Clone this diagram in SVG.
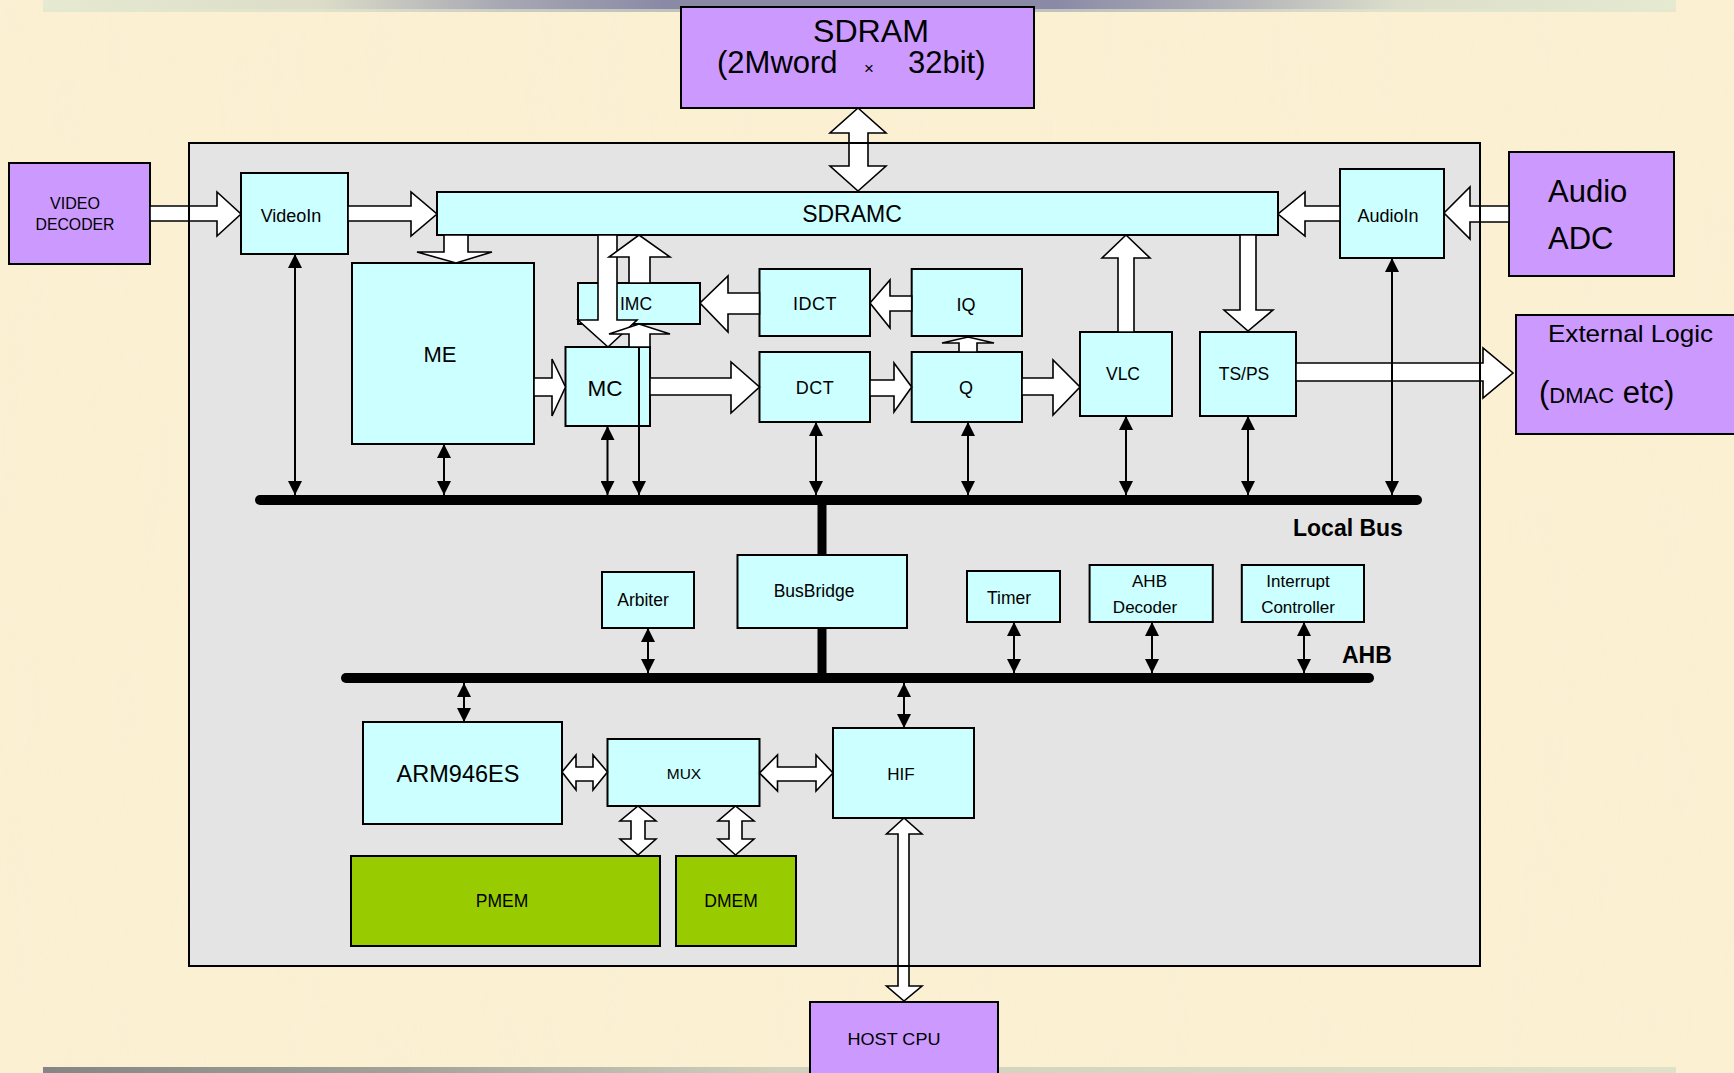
<svg xmlns="http://www.w3.org/2000/svg" width="1734" height="1073" viewBox="0 0 1734 1073">
<defs>
<style>
text{font-family:"Liberation Sans",Arial,sans-serif;fill:#000}
.n{stroke:#000;stroke-width:2}
.pu{fill:#cc99ff}.cy{fill:#ccffff}.gr{fill:#99cc00}
.ba{fill:#fff;stroke:#000;stroke-width:1.6;stroke-linejoin:miter}
.tl{stroke:#000;stroke-width:2;fill:none;marker-end:url(#ah)}
.bi{marker-start:url(#ah)}
.bus{stroke:#000;stroke-width:10;stroke-linecap:round}
.m{text-anchor:middle}
.b{font-weight:bold}
</style>
<marker id="ah" viewBox="0 0 14 14" refX="14" refY="7" markerWidth="14" markerHeight="14" markerUnits="userSpaceOnUse" orient="auto-start-reverse"><path d="M0,0 L14,7 L0,14 z" fill="#000"/></marker>
<linearGradient id="topg" x1="0" x2="1" y1="0" y2="0">
<stop offset="0" stop-color="#e6ead0"/><stop offset="0.17" stop-color="#dcdcc8"/><stop offset="0.28" stop-color="#a8a8b4"/><stop offset="0.38" stop-color="#8a8aa6"/><stop offset="0.62" stop-color="#8a8aa6"/><stop offset="0.73" stop-color="#b2b2b8"/><stop offset="0.83" stop-color="#dcdecb"/><stop offset="1" stop-color="#e6ead0"/>
</linearGradient>
<linearGradient id="botg" x1="0" x2="1" y1="0" y2="0">
<stop offset="0" stop-color="#858585"/><stop offset="0.22" stop-color="#a2a29a"/><stop offset="0.45" stop-color="#d0d0bc"/><stop offset="1" stop-color="#e0e2c8"/>
</linearGradient>
<filter id="paper" x="0" y="0" width="100%" height="100%">
<feTurbulence type="fractalNoise" baseFrequency="0.03 0.005" numOctaves="3" seed="7"/>
<feColorMatrix type="matrix" values="0 0 0 0 0.94  0 0 0 0 0.86  0 0 0 0 0.66  1.3 0 0 0 -0.5"/>
</filter>
</defs>

<g id="background">
<rect x="0" y="0" width="1734" height="1073" fill="#fbf0d2"/>
<rect x="0" y="0" width="1734" height="1073" filter="url(#paper)" opacity="0.5"/>
<rect x="43" y="0" width="1633" height="12" fill="url(#topg)"/>
<rect x="43" y="9" width="1633" height="3" fill="#e3e7cd" opacity="0.6"/>
<rect x="43" y="1067" width="1633" height="6" fill="url(#botg)"/>
</g>

<g id="chip"><rect x="189" y="143" width="1291" height="823" fill="#e4e4e4"/></g>

<g id="buses">
<line class="bus" x1="260" y1="500" x2="1417" y2="500"/>
<line class="bus" x1="346" y1="678" x2="1369" y2="678"/>
<line x1="822" y1="500" x2="822" y2="678" stroke="#000" stroke-width="9"/>
<text class="b" x="1293" y="536" font-size="23">Local Bus</text>
<text class="b" x="1342" y="663" font-size="23">AHB</text>
</g>

<g id="sdram"><rect class="n pu" x="681" y="7" width="353" height="101"/>
<text class="m" x="871" y="42" font-size="31" textLength="116" lengthAdjust="spacingAndGlyphs">SDRAM</text>
<text y="73" font-size="31"><tspan x="717">(2Mword</tspan><tspan x="864" font-size="17" dy="1">×</tspan><tspan x="908" dy="-1">32bit)</tspan></text></g>

<g id="video-decoder"><rect class="n pu" x="9" y="163" width="141" height="101"/>
<text class="m" x="75" y="209" font-size="17" textLength="50" lengthAdjust="spacingAndGlyphs">VIDEO</text>
<text class="m" x="75" y="230" font-size="17" textLength="79" lengthAdjust="spacingAndGlyphs">DECODER</text></g>

<g id="audio-adc"><rect class="n pu" x="1509" y="152" width="165" height="124"/>
<text x="1548" y="202" font-size="31">Audio</text>
<text x="1548" y="249" font-size="31">ADC</text></g>

<g id="external-logic"><rect class="n pu" x="1516" y="315" width="230" height="119"/>
<text x="1548" y="342" font-size="24" textLength="165" lengthAdjust="spacingAndGlyphs">External Logic</text>
<text x="1539" y="403" font-size="31">(<tspan font-size="22">DMAC</tspan> etc)</text></g>

<g id="host-cpu"><path d="M810,1076 V1002 H998 V1076" class="n pu"/>
<text class="m" x="894" y="1045" font-size="17" textLength="93" lengthAdjust="spacingAndGlyphs">HOST CPU</text></g>

<g id="videoin"><rect class="n cy" x="241" y="173" width="107" height="81"/>
<text class="m" x="291" y="222" font-size="18">VideoIn</text></g>

<g id="sdramc"><rect class="n cy" x="437" y="192" width="841" height="43"/>
<text class="m" x="852" y="222" font-size="23">SDRAMC</text></g>

<g id="audioin"><rect class="n cy" x="1340" y="169" width="104" height="89"/>
<text class="m" x="1388" y="222" font-size="18">AudioIn</text></g>

<g id="me"><rect class="n cy" x="352" y="263" width="182" height="181"/>
<text class="m" x="440" y="362" font-size="22">ME</text></g>

<g id="mc"><rect class="n cy" x="565.5" y="347" width="84.5" height="79"/>
<text class="m" x="605" y="396" font-size="22.5">MC</text></g>

<g id="imc"><rect class="n cy" x="578" y="283" width="122" height="41"/>
<text class="m" x="636" y="310" font-size="17.5">IMC</text></g>

<g id="idct"><rect class="n cy" x="759.5" y="269" width="110.5" height="67"/>
<text class="m" x="815" y="310" font-size="18" letter-spacing="0.5">IDCT</text></g>

<g id="iq"><rect class="n cy" x="911.7" y="269" width="110.3" height="67"/>
<text class="m" x="966" y="311" font-size="18">IQ</text></g>

<g id="dct"><rect class="n cy" x="759.5" y="352" width="110.5" height="70"/>
<text class="m" x="815" y="394" font-size="18" letter-spacing="0.5">DCT</text></g>

<g id="q"><rect class="n cy" x="911.7" y="352" width="110.3" height="70"/>
<text class="m" x="966" y="394" font-size="18">Q</text></g>

<g id="vlc"><rect class="n cy" x="1080" y="332" width="92" height="84"/>
<text class="m" x="1123" y="380" font-size="17.5">VLC</text></g>

<g id="tsps"><rect class="n cy" x="1200" y="332" width="96" height="84"/>
<text class="m" x="1244" y="380" font-size="17.5">TS/PS</text></g>

<g id="busbridge"><rect class="n cy" x="737.5" y="555" width="169.5" height="73"/>
<text class="m" x="814" y="597" font-size="17.5">BusBridge</text></g>

<g id="arbiter"><rect class="n cy" x="602" y="572" width="92" height="56"/>
<text class="m" x="643" y="606" font-size="17.5">Arbiter</text></g>

<g id="timer"><rect class="n cy" x="967" y="571" width="93" height="51"/>
<text class="m" x="1009" y="604" font-size="17.5">Timer</text></g>

<g id="ahb-decoder"><rect class="n cy" x="1089.6" y="565" width="123.2" height="57"/>
<text class="m" x="1149.5" y="587" font-size="17">AHB</text>
<text class="m" x="1145" y="613" font-size="17">Decoder</text></g>

<g id="interrupt-controller"><rect class="n cy" x="1241.8" y="565" width="122.2" height="57"/>
<text class="m" x="1298" y="587" font-size="17">Interrupt</text>
<text class="m" x="1298" y="613" font-size="17">Controller</text></g>

<g id="arm946es"><rect class="n cy" x="363" y="722" width="199" height="102"/>
<text class="m" x="458" y="782" font-size="23.5">ARM946ES</text></g>

<g id="mux"><rect class="n cy" x="607.5" y="739" width="152" height="67"/>
<text class="m" x="684" y="779" font-size="15.5">MUX</text></g>

<g id="hif"><rect class="n cy" x="833" y="728" width="141" height="90"/>
<text class="m" x="901" y="780" font-size="17">HIF</text></g>

<g id="pmem"><rect class="n gr" x="351" y="856" width="309" height="90"/>
<text class="m" x="502" y="907" font-size="17.5">PMEM</text></g>

<g id="dmem"><rect class="n gr" x="676" y="856" width="120" height="90"/>
<text class="m" x="731" y="907" font-size="17.5">DMEM</text></g>

<g id="connectors">
<polygon class="ba" points="150,206 217,206 217,192 241,214 217,236 217,221 150,221"/>
<polygon class="ba" points="348,206 411,206 411,192 437,214 411,236 411,221 348,221"/>
<polygon class="ba" points="1340,206 1305,206 1305,192 1278,214 1305,236 1305,221 1340,221"/>
<polygon class="ba" points="1509,206 1470,206 1470,187 1444,213 1470,239 1470,222 1509,222"/>
<polygon class="ba" points="858,108 886,133 868,133 868,166 886,166 858,191 830,166 849,166 849,133 830,133"/>
<polygon class="ba" points="444,235 468,235 468,252 492,252 456,263 417,252 444,252"/>
<polygon class="ba" points="534,378 552,378 552,359 565.5,387 552,416 552,396 534,396"/>
<polygon class="ba" points="598,235 617,235 617,320 637,320 608,347 578,320 598,320"/>
<polygon class="ba" points="629,283 629,257 609,257 639,235 670,257 650,257 650,283"/>
<polygon class="ba" points="629,347 629,334 609,334 639,324 670,334 650,334 650,347"/>
<polygon class="ba" points="759.5,293 728,293 728,276 700,303 728,332 728,314 759.5,314"/>
<polygon class="ba" points="911.7,296 890,296 890,280 870,303 890,328 890,311 911.7,311"/>
<polygon class="ba" points="650,378 731,378 731,362 759.5,387 731,413 731,395 650,395"/>
<polygon class="ba" points="870,380 894,380 894,363 911.7,387 894,412 894,396 870,396"/>
<polygon class="ba" points="959,352 959,343 942,343 968,337 994,343 977,343 977,352"/>
<polygon class="ba" points="1022,378 1053,378 1053,360 1080,387 1053,415 1053,395 1022,395"/>
<polygon class="ba" points="1118,332 1118,258 1102,258 1126,235 1150,258 1134,258 1134,332"/>
<polygon class="ba" points="1240,235 1256,235 1256,310 1273,310 1248,331 1224,310 1240,310"/>
<polygon class="ba" points="1296,363 1483,363 1483,348 1513,373 1483,398 1483,381 1296,381"/>
<polygon class="ba" points="562,772 576,755 576,767 593,767 593,755 607.5,772 593,790 593,781 576,781 576,790"/>
<polygon class="ba" points="759.5,773 777.5,755 777.5,767 816,767 816,755 833,773 816,791 816,781 777.5,781 777.5,791"/>
<polygon class="ba" points="638,806 656,821 645,821 645,839 656,839 638,855 620,839 631,839 631,821 620,821"/>
<polygon class="ba" points="735.5,806 754,821 742,821 742,839 754,839 735.5,855 718,839 729,839 729,821 718,821"/>
<polygon class="ba" points="904,818 922,834 909,834 909,986 922,986 904,1001 886.5,986 898,986 898,834 886.5,834"/>
<line class="tl bi" x1="295" y1="254" x2="295" y2="495"/>
<line class="tl bi" x1="444" y1="444" x2="444" y2="495"/>
<line class="tl bi" x1="607.5" y1="426" x2="607.5" y2="495"/>
<line class="tl" x1="639" y1="347" x2="639" y2="495"/>
<line class="tl bi" x1="816" y1="422" x2="816" y2="495"/>
<line class="tl bi" x1="968" y1="422" x2="968" y2="495"/>
<line class="tl bi" x1="1126" y1="416" x2="1126" y2="495"/>
<line class="tl bi" x1="1248" y1="416" x2="1248" y2="495"/>
<line class="tl bi" x1="1392" y1="258" x2="1392" y2="495"/>
<line class="tl bi" x1="648" y1="628" x2="648" y2="673"/>
<line class="tl bi" x1="1014" y1="622" x2="1014" y2="673"/>
<line class="tl bi" x1="1152" y1="622" x2="1152" y2="673"/>
<line class="tl bi" x1="1304" y1="622" x2="1304" y2="673"/>
<line class="tl bi" x1="464" y1="683" x2="464" y2="722"/>
<line class="tl bi" x1="904" y1="683" x2="904" y2="728"/>
</g>

<g id="chip-border"><rect x="189" y="143" width="1291" height="823" fill="none" stroke="#000" stroke-width="2"/></g>
</svg>
